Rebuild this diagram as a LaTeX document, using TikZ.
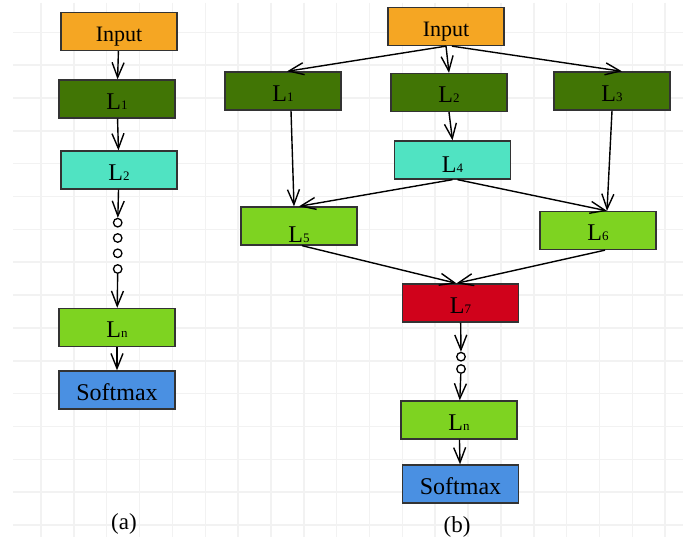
\documentclass[tikz,border=0pt]{standalone}
\usepackage{fontspec}
\setmainfont{Liberation Serif}
\usepackage{tikz}
\usetikzlibrary{positioning}
\usetikzlibrary{arrows.meta,shapes}
\definecolor{inorange}{HTML}{F5A623}
\definecolor{dkgreen}{HTML}{417505}
\definecolor{turq}{HTML}{50E3C2}
\definecolor{ltgreen}{HTML}{7ED321}
\definecolor{redlayer}{HTML}{D0021B}
\definecolor{bluelayer}{HTML}{4A90E2}
\tikzstyle{layer}=[rectangle,draw=black!80,line width=1.3pt,minimum width=116pt,minimum height=38pt,inner sep=1pt,text height=21pt,text depth=0pt,font=\fontsize{22}{24}\selectfont]
\tikzstyle{dot}=[circle,draw=black,fill=white,line width=1.3pt,minimum size=8.5pt,inner sep=0pt]
\tikzstyle{edge} = [draw,line width=1.4pt,-{Straight Barb[length=15pt,width=12pt,line width=1.4pt]}]
\tikzstyle{gridline} = [draw=black!5,line width=1.5pt]
\tikzstyle{caption} = [font=\fontsize{23}{25}\selectfont]
\newcommand{\lname}[1]{{\fontsize{24}{26}\selectfont L}{\fontsize{13}{13}\selectfont #1}}

\begin{document}
\begin{tikzpicture}[x=1pt,y=-1pt]

    % page and background grid
    \useasboundingbox[fill=white] (0,0) rectangle (683,537);
    \foreach \k in {0,...,19}
        \path[gridline] (41+32.85*\k,3) -- (41+32.85*\k,537);
    \foreach \k in {0,...,15}
        \path[gridline] (13,32.3+32.85*\k) -- (683,32.3+32.85*\k);

    % (a) plain chain of layers
    \foreach \pos/\name/\label/\col in {{(119,31.5)/aIn/Input/inorange}, {(117,99)/aL1/\lname{1}/dkgreen}, {(119,170)/aL2/\lname{2}/turq}, {(117,327.5)/aLn/\lname{n}/ltgreen}}
        \node[layer, fill=\col] (\name) at \pos {\label};
    \node[layer, fill=bluelayer, font=\fontsize{24}{26}\selectfont] (aSm) at (117,390) {Softmax};
    \foreach \pos/\name in {{(117.7,222.7)/aD1}, {(117.7,238)/aD2}, {(117.7,253.3)/aD3}, {(117.7,269)/aD4}}
        \node[dot] (\name) at \pos {};

    \foreach \source/ \dest in {aIn/aL1, aL1/aL2, aL2/aD1, aD4/aLn, aLn/aSm}
        \path[edge] (\source) -- (\dest);
    \node[caption] (aCap) at (124,524) {(a)};

    % (b) branching network
    \foreach \pos/\name/\label/\col in {{(446,26.5)/bIn/Input/inorange}, {(283,91)/bL1/\lname{1}/dkgreen}, {(449,92.5)/bL2/\lname{2}/dkgreen}, {(612,91)/bL3/\lname{3}/dkgreen}, {(598,230.5)/bL6/\lname{6}/ltgreen}, {(460.5,303)/bL7/\lname{7}/redlayer}, {(459,420)/bLn/\lname{n}/ltgreen}}
        \node[layer, fill=\col] (\name) at \pos {\label};
    \node[layer, fill=turq, text height=26pt] (bL4) at (452.5,160) {\lname{4}};
    \node[layer, fill=ltgreen, text height=34pt] (bL5) at (299,226) {\lname{5}};
    \node[layer, fill=bluelayer, font=\fontsize{24}{26}\selectfont] (bSm) at (460.5,484) {Softmax};
    \node[dot] (bD1) at (461,356.7) {};
    \node[dot] (bD2) at (461,369) {};

    \path[edge] (bIn.south) -- ([xshift=4pt]bL1.north);
    \path[edge] (bIn.south) -- (bL2.north);
    \path[edge] ([xshift=6pt]bIn.south) -- ([xshift=10pt]bL3.north);
    \path[edge] ([xshift=8pt]bL1.south) -- ([xshift=-5pt]bL5.north);
    \path[edge] (bL2.south) -- (bL4.north);
    \path[edge] (bL3.south) -- ([xshift=9pt]bL6.north);
    \path[edge] (bL4.south) -- (bL5.north);
    \path[edge] ([xshift=5pt]bL4.south) -- ([xshift=9pt]bL6.north);
    \path[edge] ([xshift=3pt]bL5.south) -- ([xshift=-4pt]bL7.north);
    \path[edge] ([xshift=7pt]bL6.south) -- ([xshift=-4pt]bL7.north);
    \foreach \source/ \dest in {bL7/bD1, bD2/bLn, bLn/bSm}
        \path[edge] (\source) -- (\dest);
    \node[caption] (bCap) at (457,527) {(b)};

\end{tikzpicture}
\end{document}
